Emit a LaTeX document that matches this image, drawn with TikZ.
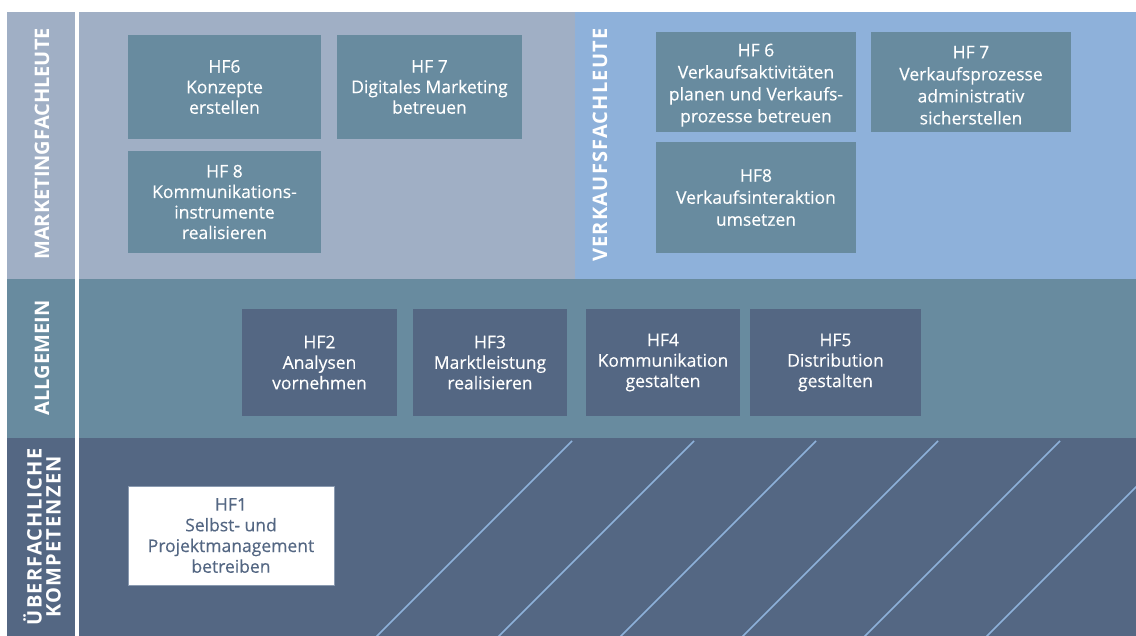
\documentclass[tikz,border=0pt]{standalone}
\usepackage{fontspec}
\setmainfont{Open Sans}
\newfontfamily\labelfont[LetterSpace=6]{Open Sans}
\definecolor{topleft}{HTML}{A0AFC5}
\definecolor{topright}{HTML}{8EB1DA}
\definecolor{midband}{HTML}{688B9F}
\definecolor{lowband}{HTML}{546783}
\definecolor{hfborder}{HTML}{8A9AB0}
\tikzset{
  hfbox/.style={fill=midband, draw=none, text=white, align=center, inner sep=0pt,
    font=\addfontfeature{FakeBold=0.3}\fontsize{17.5}{20.5}\selectfont},
  hfboxwide/.style={hfbox, font=\addfontfeature{FakeBold=0.3}\fontsize{17.5}{22}\selectfont},
  midbox/.style={fill=lowband, draw=none, text=white, align=center, inner sep=0pt,
    font=\addfontfeature{FakeBold=0.3}\fontsize{17.5}{20.5}\selectfont},
  whitebox/.style={fill=white, draw=hfborder, line width=0.8pt, text=lowband, align=center, inner sep=0pt,
    font=\addfontfeature{FakeBold=0.3}\fontsize{17.5}{20.7}\selectfont},
  bandlabel/.style={text=white, align=center, rotate=90, inner sep=0pt,
    font=\bfseries\fontsize{20}{19}\selectfont},
  bandlabelsp/.style={bandlabel, font=\labelfont\bfseries\fontsize{20}{19}\selectfont},
  hatch/.style={draw=topright, line width=1.7pt}
}
\begin{document}
\begin{tikzpicture}[x=1pt,y=-1pt]
\useasboundingbox (0,0) rectangle (1136,636);
\fill[white] (0,0) rectangle (1136,636);
% label column
\fill[topleft] (7,12) rectangle (75,279);
\fill[midband] (7,279) rectangle (75,438);
\fill[lowband] (7,438) rectangle (75,636);
% bands
\fill[topleft] (79,12) rectangle (575,279);
\fill[topright] (575,12) rectangle (1136,279);
\fill[midband] (79,279) rectangle (1136,438);
\fill[lowband] (79,438) rectangle (1136,636);
% hatch lines
\begin{scope}
\clip (79,438) rectangle (1136,636);
\foreach \k in {0,...,5} {
  \draw[hatch] ({572+122*\k},441) -- ({572+122*\k-200},641);
}
\end{scope}
% labels
\node[bandlabel] (lmkt) at (42,144) {MARKETINGFACHLEUTE};
\node[bandlabel] (lall) at (42,358) {ALLGEMEIN};
\node[bandlabelsp] (lueb) at (42,537) {ÜBERFACHLICHE\\KOMPETENZEN};
\node[bandlabelsp] (lvk) at (600,145) {VERKAUFSFACHLEUTE};
% marketing boxes
\node[hfbox, minimum width=193, minimum height=104] (m6) at (224.5,87) {HF6\\Konzepte\\erstellen};
\node[hfbox, minimum width=185, minimum height=104] (m7) at (429.5,87) {HF 7\\Digitales Marketing\\betreuen};
\node[hfbox, minimum width=193, minimum height=102] (m8) at (224.5,202) {HF 8\\Kommunikations-\\instrumente\\realisieren};
% verkauf boxes
\node[hfboxwide, minimum width=200, minimum height=100] (v6) at (756,82) {\rule{0pt}{19pt}HF 6\\Verkaufsaktivitäten\\planen und Verkaufs-\\prozesse betreuen};
\node[hfboxwide, minimum width=200, minimum height=100] (v7) at (971,82) {\rule{0pt}{19pt}HF 7\\Verkaufsprozesse\\administrativ\\sicherstellen};
\node[hfboxwide, minimum width=200, minimum height=111] (v8) at (756,197.5) {HF8\\Verkaufsinteraktion\\umsetzen};
% allgemein boxes
\node[midbox, minimum width=155, minimum height=107] (a2) at (319.5,362.5) {HF2\\Analysen\\vornehmen};
\node[midbox, minimum width=154, minimum height=107] (a3) at (490,362.5) {HF3\\Marktleistung\\realisieren};
\node[midbox, minimum width=154, minimum height=107] (a4) at (663,362.5) {HF4\\Kommunikation\\gestalten};
\node[midbox, minimum width=171, minimum height=107] (a5) at (835.5,362.5) {HF5\\Distribution\\gestalten};
% HF1
\node[whitebox, minimum width=206, minimum height=99] (h1) at (231,535.5) {HF1\\Selbst- und\\Projektmanagement\\betreiben};
\end{tikzpicture}
\end{document}
